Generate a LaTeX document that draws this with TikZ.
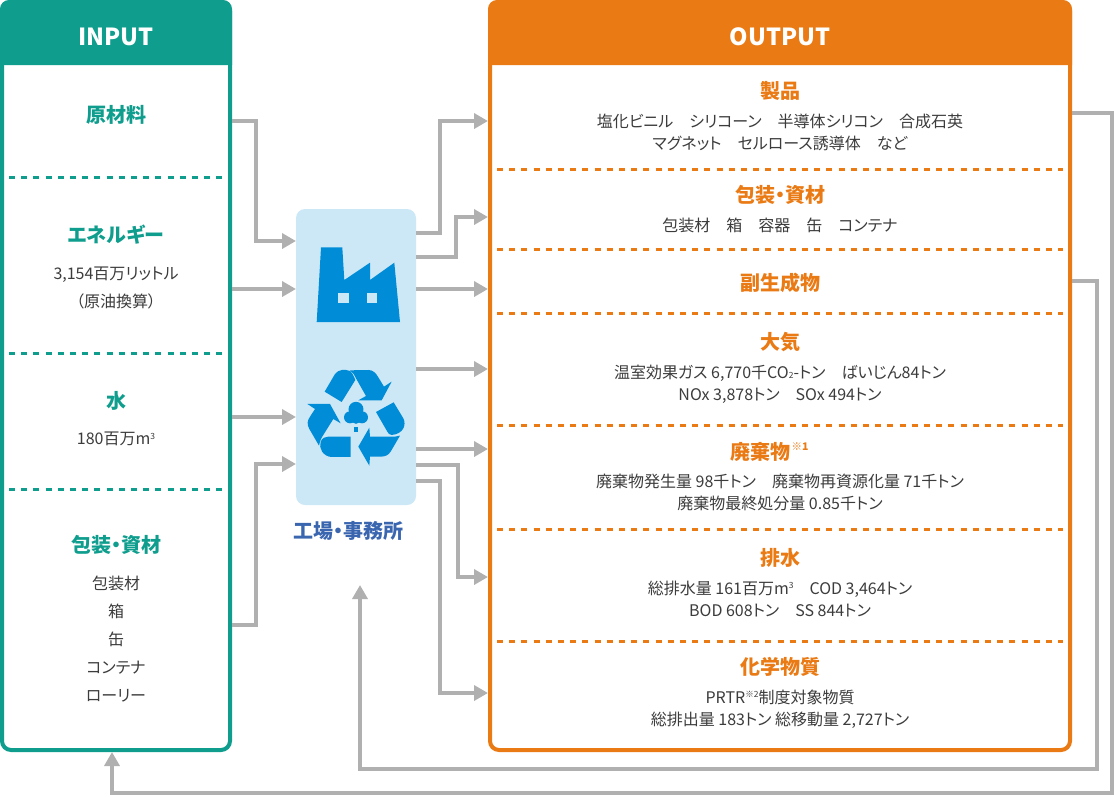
\documentclass[tikz,border=0pt]{standalone}
\usepackage{fontspec}
\setmainfont[RawFeature={+palt}]{Noto Sans CJK JP}
\usetikzlibrary{arrows.meta}
\definecolor{inputgreen}{HTML}{0F9E8E}
\definecolor{outputorange}{HTML}{EA7A14}
\definecolor{plantblue}{HTML}{CCE8F7}
\definecolor{iconblue}{HTML}{008CD6}
\definecolor{plantlabel}{HTML}{3A66B0}
\definecolor{flowgrey}{HTML}{B0B0B0}
\definecolor{bodygrey}{HTML}{3C3C3C}
\newcommand{\smalltxt}[1]{\raisebox{0.35em}{\fontsize{8.5}{8.5}\selectfont #1}}
\tikzset{
	flow/.style={draw=flowgrey,line width=4pt,-{Triangle[length=14pt,width=15pt]}},
	panel/.style={draw=#1,line width=4pt,rounded corners=9pt,fill=white,inner sep=0pt},
	title/.style={text=white,font=\fontsize{23.5}{28}\selectfont\bfseries},
	inhead/.style={text=inputgreen,font=\fontsize{20}{24}\selectfont\bfseries},
	outhead/.style={text=outputorange,font=\fontsize{20}{24}\selectfont\bfseries},
	detail/.style={text=bodygrey,align=center,font=\fontsize{16}{22}\selectfont},
	indash/.style={draw=inputgreen,line width=3pt,dash pattern=on 6pt off 6.2pt},
	outdash/.style={draw=outputorange,line width=3pt,dash pattern=on 6pt off 6.2pt}
}
\begin{document}
\begin{tikzpicture}[x=1pt,y=-1pt]
	\useasboundingbox (0,0) rectangle (1114,796);

	\node[panel=inputgreen,minimum width=228pt,minimum height=748pt] (input) at (116,376) {};
	\fill[inputgreen] (0,65) -- (0,9) arc (180:90:9pt) -- (223,0) arc (90:0:9pt) -- (232,65) -- cycle;
	\node[title] (inputtitle) at (116,36.5) {INPUT};

	\node[panel=outputorange,minimum width=580pt,minimum height=748pt] (output) at (780,376) {};
	\fill[outputorange] (488,65) -- (488,9) arc (180:90:9pt) -- (1063,0) arc (90:0:9pt) -- (1072,65) -- cycle;
	\node[title] (outputtitle) at (780,36.5) {OUTPUT};

	\node[fill=plantblue,rounded corners=9pt,minimum width=120pt,minimum height=296pt,inner sep=0pt,outer sep=0pt] (plant) at (356,357) {};
	\node[text=plantlabel,font=\fontsize{20}{24}\selectfont\bfseries] (plantname) at (348,531) {工場・事務所};

	\draw[indash] (9,177) -- (223,177);
	\draw[indash] (9,353) -- (223,353);
	\draw[indash] (9,489) -- (223,489);

	\node[inhead] (rawmat) at (116,115) {原材料};
	\node[inhead] (energy) at (116,235) {エネルギー};
	\node[detail] (energyval) at (116,275) {3,154百万リットル};
	\node[detail] (energynote) at (116,301) {（原油換算）};
	\node[inhead] (water) at (116,401) {水};
	\node[detail] (waterval) at (116,439) {180百万m\smalltxt{3}};
	\node[inhead] (packin) at (116,544.5) {包装・資材};
	\node[detail] (packa) at (116,583) {包装材};
	\node[detail] (packb) at (116,611) {箱};
	\node[detail] (packc) at (116,639) {缶};
	\node[detail] (packd) at (116,668) {コンテナ};
	\node[detail] (packe) at (116,696) {ローリー};

	\draw[outdash] (497,169) -- (1063,169);
	\draw[outdash] (497,249) -- (1063,249);
	\draw[outdash] (497,313) -- (1063,313);
	\draw[outdash] (497,425) -- (1063,425);
	\draw[outdash] (497,529) -- (1063,529);
	\draw[outdash] (497,641) -- (1063,641);

	\node[outhead] (product) at (780,91) {製品};
	\node[detail] (productval) at (780,132) {塩化ビニル　シリコーン　半導体シリコン　合成石英\\マグネット　セルロース誘導体　など};
	\node[outhead] (packout) at (780,195) {包装・資材};
	\node[detail] (packoutval) at (780,225.5) {包装材　箱　容器　缶　コンテナ};
	\node[outhead] (byprod) at (780,283) {副生成物};
	\node[outhead] (air) at (780,342.5) {大気};
	\node[detail] (airval) at (780,384) {温室効果ガス 6,770千CO{\fontsize{8.5}{8.5}\selectfont 2}-トン　ばいじん84トン\\NOx 3,878トン　SOx 494トン};
	\node[outhead] (waste) at (760.5,451.5) {廃棄物};
	\node[text=outputorange,font=\fontsize{10.5}{10.5}\selectfont\bfseries,inner sep=0pt,anchor=west] (wastenote) at (791.5,447) {{\mdseries ※}1};
	\node[detail] (wasteval) at (780,492) {廃棄物発生量 98千トン　廃棄物再資源化量 71千トン\\廃棄物最終処分量 0.85千トン};
	\node[outhead] (drain) at (780,558) {排水};
	\node[detail] (drainval) at (780,599) {総排水量 161百万m\smalltxt{3}　COD 3,464トン\\BOD 608トン　SS 844トン};
	\node[outhead] (chem) at (780,667) {化学物質};
	\node[detail] (chemval) at (780,709) {PRTR\smalltxt{※2}制度対象物質\\総排出量 183トン 総移動量 2,727トン};

	\fill[iconblue] (321,247.3) -- (342.3,247.3) -- (344.3,280) -- (370,262.7) -- (370,280) -- (394.3,262.7) -- (400,322) -- (316.7,322) -- cycle;
	\fill[plantblue] (338.3,293.3) rectangle (348.7,303.3);
	\fill[plantblue] (367,293.3) rectangle (377,303.3);

	\begin{scope}[shift={(290,200)},x=0.3333pt,y=-0.3333pt]
		\fill[iconblue] (104,575) -- (135,522) .. controls (145,508) and (165,507) .. (180,513) .. controls (187,518) and (192,530) .. (196,540) -- (155,606) -- cycle;
		\fill[iconblue] (180,511) -- (235,510) .. controls (250,510) and (258,520) .. (265,532) -- (282,560) -- (305,545) -- (275,601) -- (205,601) -- (228,588) -- (198,535) .. controls (193,525) and (188,516) .. (180,511) -- cycle;
		\fill[iconblue] (258,636) -- (311,607) -- (340,655) .. controls (350,675) and (340,702) .. (305,705) .. controls (298,705) and (295,700) .. (292,695) -- cycle;
		\fill[iconblue] (330,707) -- (302,755) .. controls (295,766) and (285,770) .. (272,770) -- (240,770) -- (238,797) -- (205,740) -- (238,683) -- (240,710) -- (300,710) .. controls (312,710) and (322,710) .. (330,707) -- cycle;
		\fill[iconblue] (182,710) -- (182,771) -- (125,771) .. controls (100,770) and (85,745) .. (92,725) .. controls (97,714) and (105,710) .. (115,710) -- cycle;
		\fill[iconblue] (52,612) -- (120,612) -- (152,670) -- (130,657) -- (98,708) .. controls (92,718) and (88,728) .. (87,737) -- (58,687) .. controls (50,672) and (52,662) .. (60,650) -- (75,627) -- cycle;
		\fill[iconblue] (198,628) circle (7.5pt);
		\fill[iconblue] (180,652) circle (6pt);
		\fill[iconblue] (216,652) circle (6pt);
		\fill[iconblue] (198,655) circle (5.5pt);
		\fill[iconblue] (191,680) rectangle (205,695);
	\end{scope}

	\draw[flow] (input.east |- 0,121) -- (256,121) -- (256,241) -- (plant.west |- 0,241);
	\draw[flow] (input.east |- 0,289) -- (plant.west |- 0,289);
	\draw[flow] (input.east |- 0,417) -- (plant.west |- 0,417);
	\draw[flow] (input.east |- 0,625) -- (256,625) -- (256,464) -- (plant.west |- 0,464);

	\draw[flow] (plant.east |- 0,233) -- (440,233) -- (440,121) -- (output.west |- 0,121);
	\draw[flow] (plant.east |- 0,257) -- (456,257) -- (456,217) -- (output.west |- 0,217);
	\draw[flow] (plant.east |- 0,289) -- (output.west |- 0,289);
	\draw[flow] (plant.east |- 0,369) -- (output.west |- 0,369);
	\draw[flow] (plant.east |- 0,449) -- (output.west |- 0,449);
	\draw[flow] (plant.east |- 0,465) -- (458,465) -- (458,577) -- (output.west |- 0,577);
	\draw[flow] (plant.east |- 0,481) -- (440,481) -- (440,693) -- (output.west |- 0,693);

	\coordinate (plantback) at (360,585);
	\draw[flow] (output.east |- 0,281) -- (1097,281) -- (1097,769) -- (360,769) -- (plantback);
	\draw[flow] (output.east |- 0,113) -- (1112,113) -- (1112,793) -- (112,793) -- (input.south -| 112,0);
\end{tikzpicture}
\end{document}
